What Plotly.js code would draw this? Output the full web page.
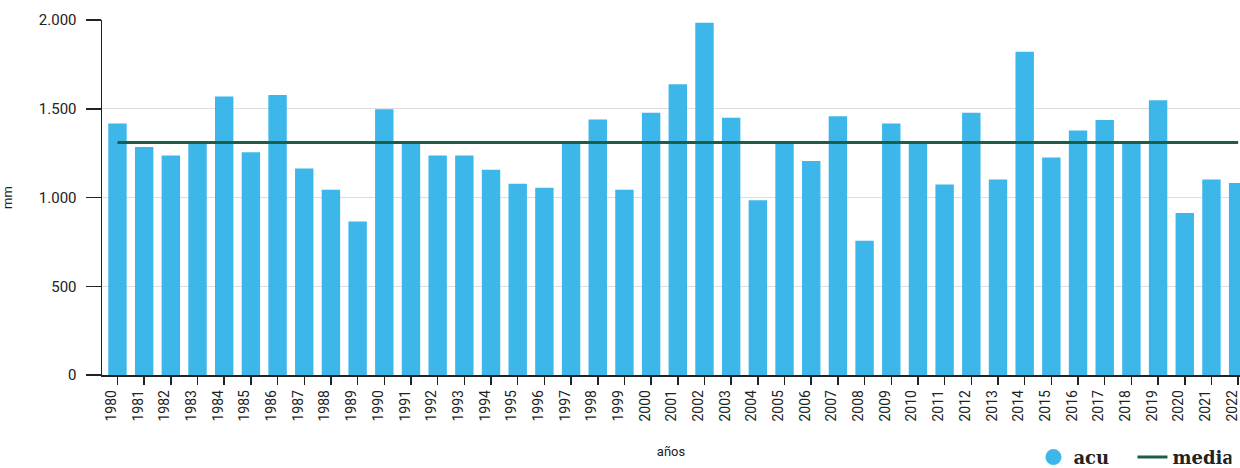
<!DOCTYPE html>
<html>
<head>
<meta charset="utf-8">
<script src="https://cdn.plot.ly/plotly-3.0.1.min.js"></script>
<style>
html,body{margin:0;padding:0;overflow:hidden;background:#fff;}
#chart{width:1240px;height:468px;}
</style>
</head>
<body>
<div id="chart"></div>
<script>
const years = ["1980","1981","1982","1983","1984","1985","1986","1987","1988","1989",
  "1990","1991","1992","1993","1994","1995","1996","1997","1998","1999",
  "2000","2001","2002","2003","2004","2005","2006","2007","2008","2009",
  "2010","2011","2012","2013","2014","2015","2016","2017","2018","2019",
  "2020","2021","2022"];
const acu = [1417,1285,1237,1305,1569,1255,1578,1163,1043,865,
  1497,1305,1237,1237,1156,1077,1055,1305,1439,1043,
  1477,1638,1984,1449,985,1305,1205,1458,757,1417,
  1305,1073,1477,1101,1821,1225,1377,1437,1305,1548,
  912,1101,1082];
const mediaValue = 1310;
const media = years.map(() => mediaValue);
const yTicks = [0, 500, 1000, 1500, 2000];
const yTickLabels = ["0", "500", "1.000", "1.500", "2.000"];

const barColor = "#3db7ea";
const lineColor = "#1e5e48";

const traces = [
  {
    type: "bar", x: years, y: acu, name: "acu",
    marker: {color: barColor}, showlegend: false, hoverinfo: "x+y"
  },
  {
    type: "scatter", mode: "markers", x: [years[0]], y: [null], name: "acu",
    marker: {color: barColor, size: 18, symbol: "circle"}, showlegend: true
  },
  {
    type: "scatter", mode: "lines", x: years, y: media, name: "media",
    line: {color: lineColor, width: 3}
  }
];

const layout = {
  width: 1240, height: 468,
  margin: {l: 102, r: 0, t: 20, b: 92.5, autoexpand: false},
  paper_bgcolor: "#fff", plot_bgcolor: "#fff",
  bargap: 0.31,
  font: {family: "Roboto, 'DejaVu Sans', sans-serif", color: "#222", size: 12},
  xaxis: {
    type: "category",
    range: [-0.58, 42.07],
    automargin: false,
    tickangle: -90,
    ticks: "outside", ticklen: 8, tickcolor: "#222", tickwidth: 1.5,
    ticklabelshift: -6,
    tickfont: {size: 14, color: "#222"},
    showline: true, linecolor: "#222", linewidth: 1.5,
    showgrid: false, zeroline: false,
    title: {text: "años", font: {size: 13, color: "#222"}, standoff: 26}
  },
  yaxis: {
    range: [0, 2000],
    automargin: false,
    tickvals: yTicks, ticktext: yTickLabels,
    ticks: "outside", ticklen: 15, tickcolor: "#222", tickwidth: 1.5,
    ticklabelstandoff: 6,
    tickfont: {size: 15, color: "#222"},
    showline: true, linecolor: "#222", linewidth: 1.5,
    showgrid: true, gridcolor: "#dddddd", gridwidth: 1,
    zeroline: false,
    title: {text: "mm", font: {size: 13, color: "#222"}, standoff: 30}
  },
  legend: {
    orientation: "h",
    x: 0.8185, xanchor: "left",
    y: -0.232, yanchor: "middle",
    font: {family: "'DejaVu Serif', 'Liberation Serif', serif", size: 18, color: "#222", weight: "bold"},
    bgcolor: "rgba(0,0,0,0)",
    itemwidth: 30,
    entrywidth: 54, entrywidthmode: "pixels"
  }
};

Plotly.newPlot("chart", traces, layout, {staticPlot: true, displayModeBar: false});
</script>
</body>
</html>
